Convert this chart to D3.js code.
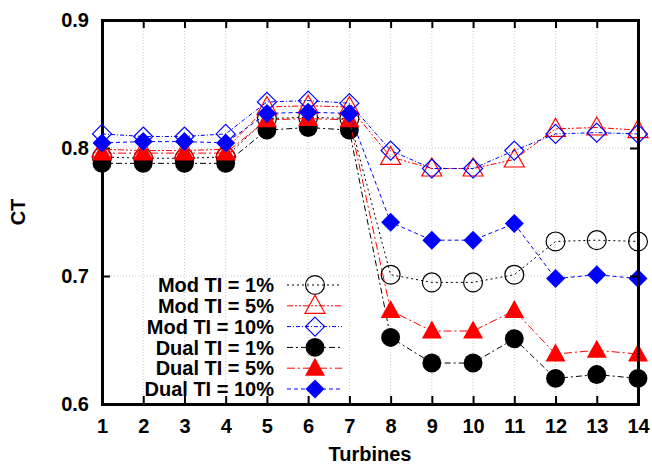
<!DOCTYPE html>
<html>
<head>
<meta charset="utf-8">
<script src="https://cdn.jsdelivr.net/npm/d3@7"></script>
<style>
  body { margin: 0; background: #fff; }
  svg text { font-family: "Liberation Sans", Arial, sans-serif; font-weight: bold; }
</style>
</head>
<body>
<svg id="chart" width="652" height="467"></svg>
<script>
// Turbine index along the row
const turbines = [1, 2, 3, 4, 5, 6, 7, 8, 9, 10, 11, 12, 13, 14];

// CT values
const mod1   = [0.793, 0.792, 0.792, 0.793, 0.823, 0.824, 0.823, 0.701, 0.695, 0.695, 0.701, 0.727, 0.728, 0.727];
const mod5   = [0.799, 0.798, 0.798, 0.799, 0.832, 0.833, 0.832, 0.793, 0.784, 0.784, 0.791, 0.815, 0.816, 0.814];
const mod10  = [0.811, 0.809, 0.809, 0.811, 0.836, 0.837, 0.835, 0.798, 0.784, 0.784, 0.798, 0.811, 0.812, 0.811];
const dual1  = [0.788, 0.788, 0.788, 0.788, 0.814, 0.816, 0.814, 0.652, 0.632, 0.632, 0.651, 0.620, 0.623, 0.620];
const dual5  = [0.796, 0.796, 0.796, 0.796, 0.822, 0.823, 0.822, 0.673, 0.657, 0.657, 0.673, 0.639, 0.642, 0.639];
const dual10 = [0.804, 0.805, 0.805, 0.804, 0.827, 0.828, 0.827, 0.742, 0.728, 0.728, 0.741, 0.698, 0.701, 0.698];

const seriesNames = ["Mod TI = 1%", "Mod TI = 5%", "Mod TI = 10%", "Dual TI = 1%", "Dual TI = 5%", "Dual TI = 10%"];
const seriesValues = [mod1, mod5, mod10, dual1, dual5, dual10];

const yTicks = [0.6, 0.7, 0.8, 0.9];

// look of each series (gnuplot style line types)
const styles = [
    { color: "#000000", dash: "2,3",          shape: "circle",   filled: false },
    { color: "#ff0000", dash: "6,2,2,2,2,2",  shape: "triangle", filled: false },
    { color: "#0000ff", dash: "4,2,1,2",      shape: "diamond",  filled: false },
    { color: "#000000", dash: "6,3,2,3",      shape: "circle",   filled: true },
    { color: "#ff0000", dash: "8,3,2,3",      shape: "triangle", filled: true },
    { color: "#0000ff", dash: "4,3",          shape: "diamond",  filled: true }
];

const margin = { left: 102, right: 14, top: 20, bottom: 63 };
const width = 652, height = 467;

const svg = d3.select("#chart");

const x = d3.scaleLinear().domain([1, 14]).range([margin.left, width - margin.right]);
const y = d3.scaleLinear().domain([0.6, 0.9]).range([height - margin.bottom, margin.top]);

// Grid lines
const grid = svg.append("g").attr("class", "grid")
    .attr("stroke", "#c8c8c8").attr("stroke-width", 1).attr("stroke-dasharray", "1,2");
grid.selectAll(".gx").data(turbines.slice(1, -1)).join("line")
    .attr("x1", d => x(d)).attr("x2", d => x(d))
    .attr("y1", y(0.6)).attr("y2", y(0.9));
grid.selectAll(".gy").data(yTicks.slice(1, -1)).join("line")
    .attr("x1", x(1)).attr("x2", x(14))
    .attr("y1", d => y(d)).attr("y2", d => y(d));

// Axes (ticks inward on all sides)
const bottomAxis = svg.append("g").attr("transform", `translate(0,${y(0.6)})`)
    .call(d3.axisBottom(x).tickValues(turbines).tickSize(-8).tickPadding(15).tickFormat(d3.format("d")));
const topAxis = svg.append("g").attr("transform", `translate(0,${y(0.9)})`)
    .call(d3.axisTop(x).tickValues(turbines).tickSize(-8).tickFormat(""));
const leftAxis = svg.append("g").attr("transform", `translate(${x(1)},0)`)
    .call(d3.axisLeft(y).tickValues(yTicks).tickSize(-8).tickPadding(13).tickFormat(d3.format(".1f")));

[bottomAxis, topAxis, leftAxis].forEach(g => {
    g.select(".domain").attr("stroke-width", 3).attr("stroke", "#000");
    g.selectAll(".tick line").attr("stroke-width", 2).attr("stroke", "#000");
    g.selectAll(".tick text").attr("font-size", 20).attr("fill", "#000")
        .style("font-family", "Liberation Sans, Arial, sans-serif").style("font-weight", "bold");
});

// Marker symbols
function markerPath(shape) {
    if (shape === "circle") return d3.symbol(d3.symbolCircle, 280)();
    if (shape === "triangle") return "M0,-10.5L10,7.5L-10,7.5Z";
    return "M0,-9.5L9.5,0L0,9.5L-9.5,0Z";
}

function drawMarker(g, st, cx, cy) {
    g.append("path")
        .attr("d", markerPath(st.shape))
        .attr("transform", `translate(${cx},${cy})`)
        .attr("fill", st.filled ? st.color : "none")
        .attr("stroke", st.color)
        .attr("stroke-width", st.filled ? 0 : 1.2);
}

const line = d3.line().x((d, i) => x(turbines[i])).y(d => y(d));

const plot = svg.append("g").attr("class", "series");
seriesValues.forEach((vals, k) => {
    const st = styles[k];
    const g = plot.append("g");
    g.append("path")
        .datum(vals)
        .attr("d", line)
        .attr("fill", "none")
        .attr("stroke", st.color)
        .attr("stroke-width", 1)
        .attr("stroke-dasharray", st.dash);
    vals.forEach((v, i) => drawMarker(g, st, x(turbines[i]), y(v)));
});

// Right border with inward ticks, drawn on top
const rightAxis = svg.append("g").attr("transform", `translate(${x(14)},0)`)
    .call(d3.axisRight(y).tickValues(yTicks).tickSize(-8).tickFormat(""));
rightAxis.select(".domain").attr("stroke-width", 3).attr("stroke", "#000");
rightAxis.selectAll(".tick line").attr("stroke-width", 2).attr("stroke", "#000");

// Legend
const legend = svg.append("g").attr("class", "legend");
const legendTop = 285, legendStep = 20.8;
seriesNames.forEach((name, k) => {
    const st = styles[k];
    const ly = legendTop + k * legendStep;
    legend.append("text")
        .attr("x", 274).attr("y", ly)
        .attr("dy", "0.36em")
        .attr("text-anchor", "end")
        .attr("font-size", 20)
        .text(name);
    legend.append("line")
        .attr("x1", 287).attr("x2", 342)
        .attr("y1", ly).attr("y2", ly)
        .attr("stroke", st.color).attr("stroke-width", 1)
        .attr("stroke-dasharray", st.dash);
    drawMarker(legend, st, 315, ly);
});

// Axis titles
svg.append("text")
    .attr("x", (x(1) + x(14)) / 2).attr("y", 461)
    .attr("text-anchor", "middle").attr("font-size", 20)
    .text("Turbines");
svg.append("text")
    .attr("transform", `translate(25,${(y(0.6) + y(0.9)) / 2}) rotate(-90)`)
    .attr("text-anchor", "middle").attr("font-size", 20)
    .text("CT");
</script>
</body>
</html>
